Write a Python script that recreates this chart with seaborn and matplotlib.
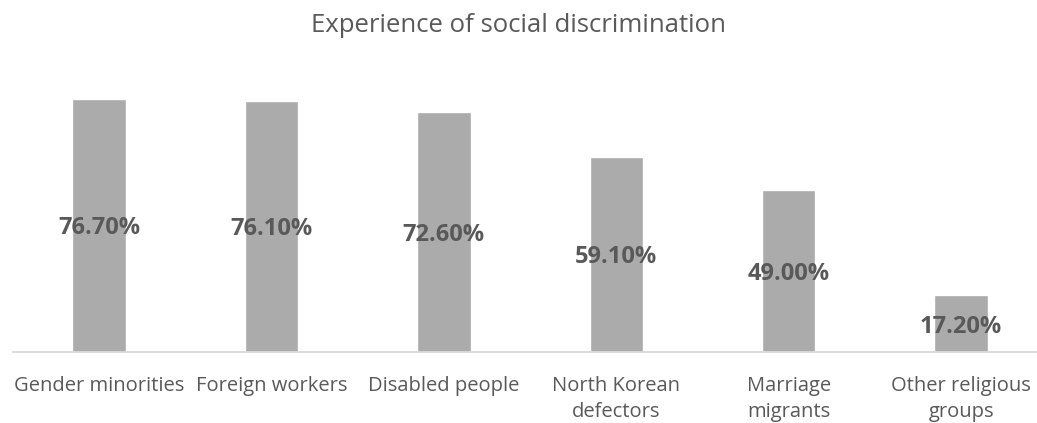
import numpy as np
import pandas as pd
import matplotlib
matplotlib.use("Agg")
import matplotlib.pyplot as plt
import seaborn as sns

# values
groups = ["Gender minorities", "Foreign workers", "Disabled people",
          "North Korean\ndefectors", "Marriage\nmigrants", "Other religious\ngroups"]
rates = [76.7, 76.1, 72.6, 59.1, 49.0, 17.2]

df = pd.DataFrame({"group": groups, "rate": rates})

sns.set_style("white")
plt.rcParams['font.family'] = ['Open Sans', 'Noto Sans CJK KR', 'DejaVu Sans']

fig = plt.figure(figsize=(10.37, 4.23), dpi=100)
ax = fig.add_axes([0.0123, 0.168, 0.9877, 0.702])

sns.barplot(data=df, x="group", y="rate", color="#ABABAB", width=0.31,
            saturation=1, ax=ax)

for i, v in enumerate(rates):
    ax.text(i, v / 2, f"{v:.2f}%", ha="center", va="center_baseline",
            fontsize=17, fontweight="bold", color="#595959")

ax.set_xlim(-0.5, 5.44)
ax.set_ylim(0, 90)
ax.set_xlabel("")
ax.set_ylabel("")
ax.set_yticks([])
for s in ["top", "right", "left"]:
    ax.spines[s].set_visible(False)
ax.spines["bottom"].set_color("#D9D9D9")
ax.spines["bottom"].set_linewidth(1.3)
ax.tick_params(axis="x", length=0, pad=17, labelsize=14.5, labelcolor="#595959")
for lbl in ax.get_xticklabels():
    lbl.set_linespacing(1.45)

fig.text(0.5, 0.94, "Experience of social discrimination", ha="center", va="center",
         fontsize=18.5, color="#595959")

plt.savefig("out.png", dpi=100)
